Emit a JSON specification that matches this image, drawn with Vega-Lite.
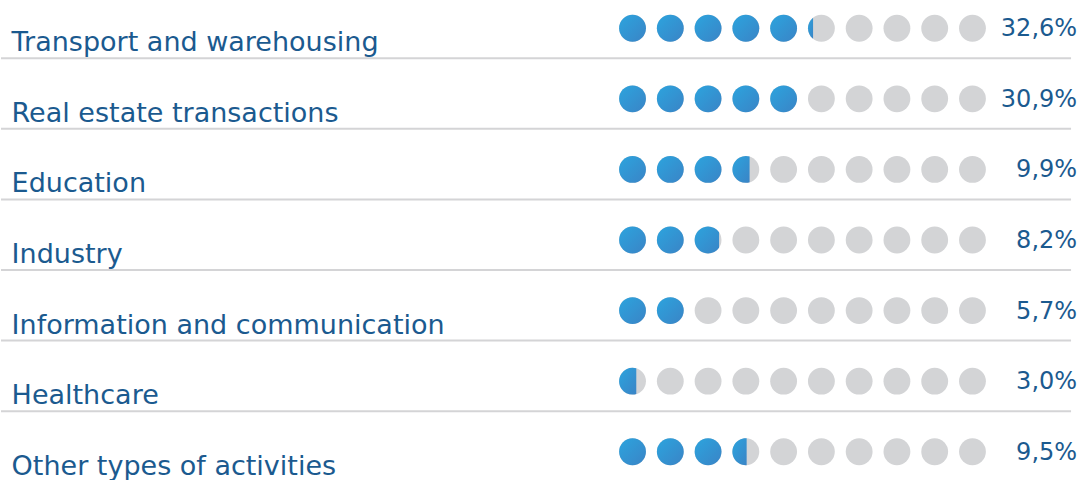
{
  "$schema": "https://vega.github.io/schema/vega-lite/v6.json",
  "width": 1082,
  "height": 480,
  "autosize": {"type": "fit", "contains": "padding"},
  "padding": 0,
  "background": "#ffffff",
  "config": {"view": {"stroke": null}},
  "datasets": {
    "rows": [
      {"row": 1, "label": "Transport and warehousing", "pct": "32,6%"},
      {"row": 2, "label": "Real estate transactions", "pct": "30,9%"},
      {"row": 3, "label": "Education", "pct": "9,9%"},
      {"row": 4, "label": "Industry", "pct": "8,2%"},
      {"row": 5, "label": "Information and communication", "pct": "5,7%"},
      {"row": 6, "label": "Healthcare", "pct": "3,0%"},
      {"row": 7, "label": "Other types of activities", "pct": "9,5%"}
    ],
    "dots": [
      {"row": 1, "dot": 1, "part": "full"}, {"row": 1, "dot": 2, "part": "full"}, {"row": 1, "dot": 3, "part": "full"}, {"row": 1, "dot": 4, "part": "full"}, {"row": 1, "dot": 5, "part": "full"}, {"row": 1, "dot": 6, "part": "sliver"}, {"row": 1, "dot": 7, "part": "empty"}, {"row": 1, "dot": 8, "part": "empty"}, {"row": 1, "dot": 9, "part": "empty"}, {"row": 1, "dot": 10, "part": "empty"},
      {"row": 2, "dot": 1, "part": "full"}, {"row": 2, "dot": 2, "part": "full"}, {"row": 2, "dot": 3, "part": "full"}, {"row": 2, "dot": 4, "part": "full"}, {"row": 2, "dot": 5, "part": "full"}, {"row": 2, "dot": 6, "part": "empty"}, {"row": 2, "dot": 7, "part": "empty"}, {"row": 2, "dot": 8, "part": "empty"}, {"row": 2, "dot": 9, "part": "empty"}, {"row": 2, "dot": 10, "part": "empty"},
      {"row": 3, "dot": 1, "part": "full"}, {"row": 3, "dot": 2, "part": "full"}, {"row": 3, "dot": 3, "part": "full"}, {"row": 3, "dot": 4, "part": "more"}, {"row": 3, "dot": 5, "part": "empty"}, {"row": 3, "dot": 6, "part": "empty"}, {"row": 3, "dot": 7, "part": "empty"}, {"row": 3, "dot": 8, "part": "empty"}, {"row": 3, "dot": 9, "part": "empty"}, {"row": 3, "dot": 10, "part": "empty"},
      {"row": 4, "dot": 1, "part": "full"}, {"row": 4, "dot": 2, "part": "full"}, {"row": 4, "dot": 3, "part": "most"}, {"row": 4, "dot": 4, "part": "empty"}, {"row": 4, "dot": 5, "part": "empty"}, {"row": 4, "dot": 6, "part": "empty"}, {"row": 4, "dot": 7, "part": "empty"}, {"row": 4, "dot": 8, "part": "empty"}, {"row": 4, "dot": 9, "part": "empty"}, {"row": 4, "dot": 10, "part": "empty"},
      {"row": 5, "dot": 1, "part": "full"}, {"row": 5, "dot": 2, "part": "full"}, {"row": 5, "dot": 3, "part": "empty"}, {"row": 5, "dot": 4, "part": "empty"}, {"row": 5, "dot": 5, "part": "empty"}, {"row": 5, "dot": 6, "part": "empty"}, {"row": 5, "dot": 7, "part": "empty"}, {"row": 5, "dot": 8, "part": "empty"}, {"row": 5, "dot": 9, "part": "empty"}, {"row": 5, "dot": 10, "part": "empty"},
      {"row": 6, "dot": 1, "part": "more"}, {"row": 6, "dot": 2, "part": "empty"}, {"row": 6, "dot": 3, "part": "empty"}, {"row": 6, "dot": 4, "part": "empty"}, {"row": 6, "dot": 5, "part": "empty"}, {"row": 6, "dot": 6, "part": "empty"}, {"row": 6, "dot": 7, "part": "empty"}, {"row": 6, "dot": 8, "part": "empty"}, {"row": 6, "dot": 9, "part": "empty"}, {"row": 6, "dot": 10, "part": "empty"},
      {"row": 7, "dot": 1, "part": "full"}, {"row": 7, "dot": 2, "part": "full"}, {"row": 7, "dot": 3, "part": "full"}, {"row": 7, "dot": 4, "part": "half"}, {"row": 7, "dot": 5, "part": "empty"}, {"row": 7, "dot": 6, "part": "empty"}, {"row": 7, "dot": 7, "part": "empty"}, {"row": 7, "dot": 8, "part": "empty"}, {"row": 7, "dot": 9, "part": "empty"}, {"row": 7, "dot": 10, "part": "empty"}
    ]
  },
  "encoding": {
    "y": {"field": "row", "type": "quantitative", "scale": {"domain": [0.6, 7.4], "reverse": true, "nice": false, "zero": false}, "axis": null}
  },
  "layer": [
    {
      "data": {"name": "rows"},
      "transform": [{"filter": "datum.row < 7"}],
      "mark": {"type": "rule", "stroke": "#d4d4d6", "strokeWidth": 2, "yOffset": 30},
      "encoding": {
        "x": {"datum": -15.72, "type": "quantitative", "scale": {"domain": [-15.72, 12.9], "nice": false, "zero": false}, "axis": null},
        "x2": {"datum": 12.61}
      }
    },
    {
      "data": {"name": "dots"},
      "mark": {"type": "circle", "fill": "#d3d4d6", "size": 720, "opacity": 1},
      "encoding": {
        "x": {"field": "dot", "type": "quantitative"}
      }
    },
    {
      "data": {"name": "dots"},
      "transform": [{"filter": "datum.part !== 'empty'"}],
      "mark": {
        "type": "point",
        "filled": true,
        "size": 720,
        "opacity": 1,
        "fill": {"gradient": "linear", "x1": 0, "y1": 0, "x2": 1, "y2": 1, "stops": [{"offset": 0, "color": "#2ca4de"}, {"offset": 1, "color": "#3a84c6"}]}
      },
      "encoding": {
        "x": {"field": "dot", "type": "quantitative"},
        "shape": {
          "field": "part",
          "type": "nominal",
          "legend": null,
          "scale": {
            "domain": ["full", "sliver", "half", "more", "most"],
            "range": [
              "circle",
              "M -0.62 -0.785 A 1 1 0 0 0 -0.62 0.785 Z",
              "M 0.06 -0.998 A 1 1 0 1 0 0.06 0.998 Z",
              "M 0.28 -0.96 A 1 1 0 1 0 0.28 0.96 Z",
              "M 0.82 -0.572 A 1 1 0 1 0 0.82 0.572 Z"
            ]
          }
        }
      }
    },
    {
      "data": {"name": "rows"},
      "mark": {"type": "text", "align": "left", "baseline": "alphabetic", "dy": 23, "font": "DejaVu Sans", "fontSize": 27, "color": "#1b5a8f"},
      "encoding": {
        "x": {"datum": -15.44, "type": "quantitative"},
        "text": {"field": "label"}
      }
    },
    {
      "data": {"name": "rows"},
      "mark": {"type": "text", "align": "right", "baseline": "middle", "dy": 1, "font": "DejaVu Sans", "fontSize": 24, "color": "#1b5a8f"},
      "encoding": {
        "x": {"datum": 12.77, "type": "quantitative"},
        "text": {"field": "pct"}
      }
    }
  ]
}
